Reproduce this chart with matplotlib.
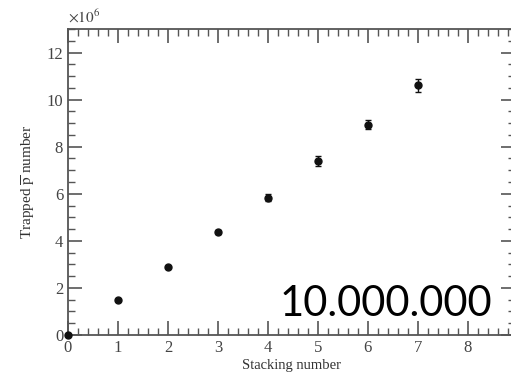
import matplotlib.pyplot as plt
from matplotlib.ticker import MultipleLocator

# trapped antiproton counts per stacking step (units of 10^6)
stacking = [0, 1, 2, 3, 4, 5, 6, 7]
trapped = [0.0, 1.49, 2.89, 4.38, 5.83, 7.40, 8.94, 10.6]
errors = [0.0, 0.05, 0.06, 0.1, 0.15, 0.2, 0.2, 0.28]

plt.rcParams['font.family'] = 'Liberation Serif'
plt.rcParams['mathtext.fontset'] = 'stix'

fig = plt.figure(figsize=(5.11, 3.74), dpi=100)
ax = fig.add_axes([68 / 511, 39 / 374, 447 / 511, 306 / 374])

ax.errorbar(stacking, trapped, yerr=errors, fmt='o', color='#111111',
            markersize=5, elinewidth=1, capsize=2, clip_on=False, zorder=3)

ax.set_xlim(0, 8.95)
ax.set_ylim(0, 13)
ax.xaxis.set_major_locator(MultipleLocator(1))
ax.xaxis.set_minor_locator(MultipleLocator(0.2))
ax.yaxis.set_major_locator(MultipleLocator(2))
ax.yaxis.set_minor_locator(MultipleLocator(0.5))
ax.tick_params(which='both', direction='in', top=True, right=True,
               color='#555555', labelcolor='#444444', labelsize=12)
ax.tick_params(which='major', length=10, width=1.2)
ax.tick_params(which='minor', length=5, width=1)
for s in ax.spines.values():
    s.set_color('#555555')
    s.set_linewidth(1.3)

ax.set_xlabel('Stacking number', fontsize=10.5, color='#333333', labelpad=2)
ax.set_ylabel(r'Trapped $\overline{\mathrm{p}}$ number', fontsize=11,
              color='#333333', labelpad=6)
ax.text(0, 1.01, r'$\times10^6$', transform=ax.transAxes, fontsize=11,
        color='#444444', va='bottom')

fig.text(280 / 511, 1 - 316 / 374, '10.000.000', fontsize=30,
         family='Lato', color='black', va='baseline', ha='left')

fig.savefig('out.png', dpi=100)
